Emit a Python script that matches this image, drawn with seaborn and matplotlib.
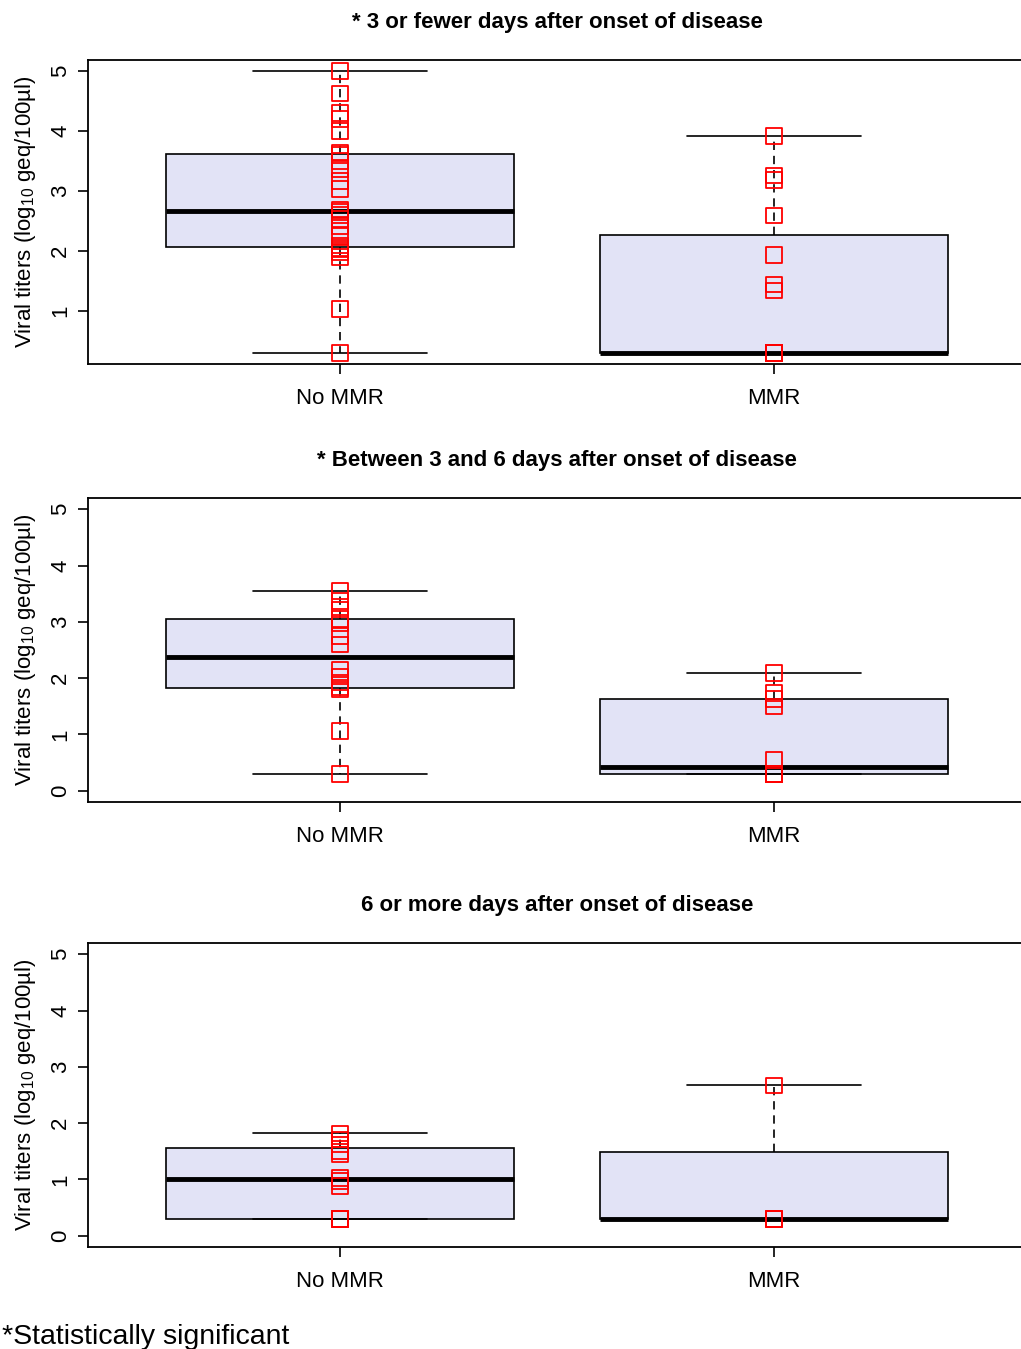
import numpy as np
import pandas as pd
import matplotlib
matplotlib.use("Agg")
import matplotlib.pyplot as plt
import seaborn as sns

# categories and panel titles
groups = ["No MMR", "MMR"]
titles = [
    "* 3 or fewer days after onset of disease",
    "* Between 3 and 6 days after onset of disease",
    "6 or more days after onset of disease",
]

# viral titers (log10 geq/100ul)
early_no_mmr = [0.3, 1.03, 1.9, 1.97, 2.02, 2.05, 2.09, 2.25, 2.42, 2.53, 2.6, 2.65,
                2.69, 3.03, 3.17, 3.37, 3.5, 3.6, 3.64, 4.0, 4.2, 4.3, 4.63, 5.0]
early_mmr = [0.3, 0.3, 0.3, 0.3, 0.3, 0.3, 0.3, 0.3,
             1.34, 1.44, 1.93, 2.59, 3.18, 3.26, 3.92]
mid_no_mmr = [0.3, 1.06, 1.8, 1.83, 1.92, 2.03, 2.15, 2.6, 2.75, 2.98, 3.05,
              3.22, 3.37, 3.55]
mid_mmr = [0.3, 0.3, 0.3, 0.3, 0.3, 0.55, 1.5, 1.63, 1.74, 2.09]
late_no_mmr = [0.3, 0.3, 0.3, 0.3, 0.88, 0.97, 1.03, 1.44, 1.5, 1.62, 1.71, 1.82]
late_mmr = [0.3, 0.3, 0.3, 2.67]

panels = [
    (titles[0], early_no_mmr, early_mmr, (0.112, 5.188), [1, 2, 3, 4, 5]),
    (titles[1], mid_no_mmr, mid_mmr, (-0.2, 5.2), [0, 1, 2, 3, 4, 5]),
    (titles[2], late_no_mmr, late_mmr, (-0.2, 5.2), [0, 1, 2, 3, 4, 5]),
]


def fivenum(x):
    # Tukey hinges, as R's boxplot uses them
    x = np.sort(np.asarray(x, float))
    n = len(x)
    n4 = np.floor((n + 3) / 2) / 2
    d = np.array([1, n4, (n + 1) / 2, n + 1 - n4, n]) - 1
    return 0.5 * (x[np.floor(d).astype(int)] + x[np.ceil(d).astype(int)])


def box_stats(x, label):
    lo, q1, med, q3, hi = fivenum(x)
    iqr = q3 - q1
    x = np.asarray(x, float)
    inside = x[(x >= q1 - 1.5 * iqr) & (x <= q3 + 1.5 * iqr)]
    return dict(med=med, q1=q1, q3=q3, whislo=inside.min(), whishi=inside.max(),
                fliers=[], label=label)


sns.set_style("ticks")
plt.rcParams["font.family"] = ["Liberation Sans", "DejaVu Sans"]
plt.rcParams["mathtext.default"] = "regular"
for key in ["text.color", "axes.labelcolor", "xtick.color", "ytick.color"]:
    plt.rcParams[key] = "black"

W, H = 1021, 1349
fig = plt.figure(figsize=(W / 100, H / 100), dpi=100)

tops = [60, 498, 943]
for (title, no_mmr, mmr, ylim, yticks), top in zip(panels, tops):
    ax = fig.add_axes([88 / W, 1 - (top + 304) / H, 938 / W, 304 / H])

    stats = [box_stats(no_mmr, groups[0]), box_stats(mmr, groups[1])]
    ax.bxp(stats, positions=[1, 2], widths=0.8, patch_artist=True, showfliers=False,
           boxprops=dict(facecolor="#E2E3F6", edgecolor="black", linewidth=1.2),
           medianprops=dict(color="black", linewidth=3.5, solid_capstyle="butt"),
           whiskerprops=dict(color="black", linewidth=1.2, linestyle=(0, (5, 3.5))),
           capprops=dict(color="black", linewidth=1.2), capwidths=0.4,
           zorder=2)

    df = pd.DataFrame({
        "pos": [1] * len(no_mmr) + [2] * len(mmr),
        "titer": list(no_mmr) + list(mmr),
    })
    sns.scatterplot(data=df, x="pos", y="titer", ax=ax, marker="s", s=125,
                    facecolor="none", edgecolor="red", linewidth=1.3, zorder=3)

    ax.set_xlim(0.42, 2.58)
    ax.set_ylim(*ylim)
    ax.set_xticks([1, 2])
    ax.set_xticklabels(groups)
    ax.set_yticks(yticks)
    ax.set_xlabel("")
    ax.set_ylabel("Viral titers (log$_{10}$ geq/100µl)", fontsize=16, labelpad=9)
    ax.tick_params(axis="both", labelsize=16, length=7, width=1.2, color="black",
                   direction="out")
    ax.tick_params(axis="x", pad=10)
    ax.tick_params(axis="y", pad=5)
    for lab in ax.get_yticklabels():
        lab.set_rotation(90)
        lab.set_va("center")
    for sp in ax.spines.values():
        sp.set_visible(True)
        sp.set_color("black")
        sp.set_linewidth(1.3)
    ax.set_title(title, fontsize=16, fontweight="bold", pad=23)

fig.text(2 / W, 1 - 1344 / H, "*Statistically significant", fontsize=20.5,
         ha="left", va="baseline")

fig.savefig("out.png", dpi=100)
